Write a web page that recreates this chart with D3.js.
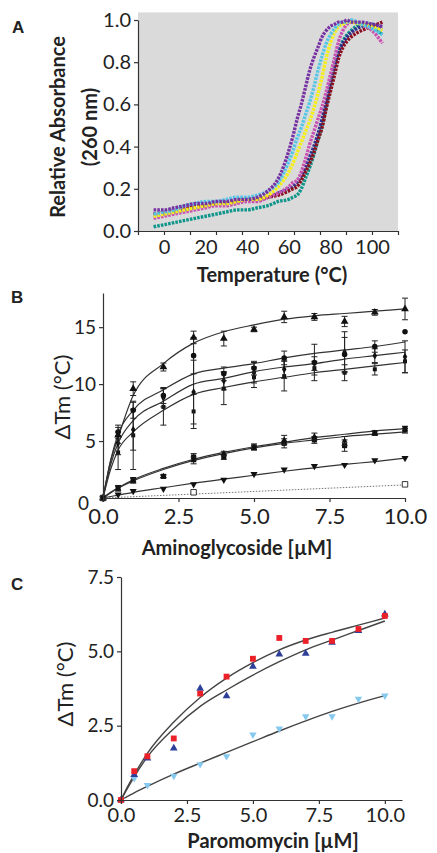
<!DOCTYPE html>
<html>
<head>
<meta charset="utf-8">
<script src="https://cdn.jsdelivr.net/npm/d3@7"></script>
<style>
  body { margin: 0; background: #fff; }
  text { font-family: Lato, "Open Sans", sans-serif; fill: #222; }
</style>
</head>
<body>
<svg id="fig" width="437" height="853"></svg>
<script>
// ---------- panel A : melting curves ----------
const meltTemps = [-5, 0, 5, 10, 15, 20, 25, 30, 35, 40, 45, 50, 55, 60, 62, 64, 66, 68, 70, 72, 74, 76, 78, 80, 82, 84, 86, 88, 90, 95, 100, 105];
const purpleAbs = [0.10, 0.10, 0.11, 0.12, 0.13, 0.13, 0.14, 0.14, 0.15, 0.15, 0.16, 0.19, 0.25, 0.38, 0.45, 0.53, 0.60, 0.68, 0.76, 0.82, 0.87, 0.92, 0.95, 0.97, 0.98, 0.99, 0.99, 1.00, 0.99, 0.99, 0.98, 0.97];
const cyanAbs = [0.08, 0.09, 0.10, 0.12, 0.13, 0.14, 0.14, 0.15, 0.16, 0.16, 0.17, 0.19, 0.23, 0.33, 0.38, 0.44, 0.49, 0.55, 0.61, 0.68, 0.76, 0.83, 0.89, 0.93, 0.96, 0.98, 0.99, 0.99, 1.00, 0.98, 0.96, 0.93];
const yellowAbs = [0.07, 0.08, 0.09, 0.10, 0.11, 0.12, 0.13, 0.13, 0.14, 0.15, 0.15, 0.17, 0.21, 0.28, 0.32, 0.37, 0.42, 0.47, 0.52, 0.58, 0.65, 0.73, 0.82, 0.89, 0.94, 0.97, 0.98, 0.99, 0.99, 0.98, 0.97, 0.95];
const magentaAbs = [0.06, 0.07, 0.08, 0.09, 0.10, 0.11, 0.12, 0.12, 0.13, 0.14, 0.14, 0.16, 0.18, 0.21, 0.23, 0.24, 0.28, 0.34, 0.41, 0.47, 0.53, 0.59, 0.66, 0.74, 0.82, 0.90, 0.95, 0.98, 0.99, 0.98, 0.95, 0.89];
const navyAbs = [0.08, 0.08, 0.09, 0.10, 0.11, 0.12, 0.13, 0.13, 0.14, 0.15, 0.15, 0.16, 0.18, 0.20, 0.21, 0.23, 0.26, 0.30, 0.35, 0.40, 0.46, 0.53, 0.61, 0.70, 0.78, 0.85, 0.89, 0.92, 0.94, 0.97, 0.98, 0.96];
const tealAbs = [0.02, 0.03, 0.04, 0.05, 0.06, 0.07, 0.08, 0.09, 0.10, 0.10, 0.11, 0.12, 0.14, 0.15, 0.16, 0.17, 0.20, 0.25, 0.30, 0.36, 0.43, 0.50, 0.59, 0.69, 0.78, 0.85, 0.90, 0.93, 0.95, 0.98, 0.97, 0.93];
const darkRedAbs = [0.08, 0.09, 0.10, 0.11, 0.12, 0.12, 0.13, 0.14, 0.14, 0.15, 0.15, 0.16, 0.17, 0.19, 0.20, 0.21, 0.24, 0.28, 0.32, 0.37, 0.43, 0.49, 0.58, 0.66, 0.74, 0.82, 0.87, 0.90, 0.92, 0.95, 0.97, 0.99];
const aYTicks = [0, 0.2, 0.4, 0.6, 0.8, 1.0];
const aXLabels = [0, 20, 40, 60, 80, 100];

// ---------- panel B : aminoglycoside titration ----------
const bConc = [0, 0.5, 1, 2, 3, 4, 5, 6, 7, 8, 9, 10];
const bFitConc = [0, 0.25, 0.5, 1, 2, 3, 4, 5, 6, 7, 8, 9, 10];
const bTriUp = [0, 5.5, 9.6, 11.5, 14.1, 14.0, 14.8, 15.9, 15.9, 15.5, 16.3, 16.6];
const bTriUpErr = [0, 0.7, 0.6, 0.35, 0.55, 0.65, 0.2, 0.5, 0.3, 0.45, 0.25, 0.95];
const bCircle = [0, 5.8, 7.7, 9.0, 12.5, 10.9, 11.4, 12.3, 11.9, 12.6, 13.3, 14.6];
const bCircleErr = [0, 0.6, 0.7, 0.7, 1.6, 0.6, 0.6, 0.6, 1.6, 1.5, 0.5, 0];
const bDiamond = [0, 4.8, 6.0, 8.8, 9.3, 10.3, 11.0, 11.3, 11.8, 12.8, 12.5, 12.4];
const bDiamondErr = [0, 1.0, 1.8, 0.8, 2.8, 0.8, 0.9, 0.8, 0.6, 1.8, 0.6, 1.4];
const bSmallSq = [0, 4.0, 5.5, 8.0, 7.6, 9.6, 10.6, 10.7, 11.4, 11.0, 11.3, 12.0];
const bSmallSqErr = [0, 1.5, 3.0, 1.6, 1.5, 1.4, 0.9, 1.3, 0.6, 0.7, 0.5, 1.0];
const bSquare = [0, 0.9, 1.6, 1.9, 3.6, 3.6, 4.5, 4.8, 5.1, 4.6, 5.7, 6.1];
const bSquareErr = [0, 0.2, 0.2, 0.15, 0.3, 0.2, 0.25, 0.4, 0.3, 0.5, 0.2, 0.2];
const bTriSmall = [0, 0.8, 1.5, 1.9, 3.3, 3.9, 4.4, 5.1, 5.4, 5.0, 5.7, 5.9];
const bTriSmallErr = [0, 0.2, 0.2, 0.1, 0.3, 0.2, 0.2, 0.4, 0.3, 0.4, 0.2, 0.2];
const bTriDown = [0, 0.3, 0.6, 0.8, 1.2, 1.6, 2.1, 2.5, 2.8, 2.9, 3.3, 3.5];
const bOpenConc = [0, 3, 10];
const bOpenSq = [0, 0.5, 1.2];
const bFitTriUp = [0, 3.2, 5.3, 9.0, 11.8, 13.6, 14.6, 15.2, 15.7, 16.0, 16.2, 16.4, 16.6];
const bFitCircle = [0, 3.3, 5.6, 7.7, 9.5, 10.9, 11.4, 11.8, 12.3, 12.7, 13.0, 13.3, 13.7];
const bFitDiamond = [0, 2.9, 4.8, 6.8, 8.5, 10.0, 10.5, 11.1, 11.5, 11.8, 12.2, 12.5, 12.8];
const bFitSmallSq = [0, 2.5, 4.2, 5.8, 7.7, 9.1, 9.7, 10.2, 10.6, 11.0, 11.3, 11.6, 11.9];
const bFitSquare = [0, 0.5, 0.9, 1.6, 2.6, 3.4, 4.0, 4.5, 4.9, 5.3, 5.6, 5.9, 6.1];
const bFitTriSmall = [0, 0.45, 0.85, 1.5, 2.5, 3.3, 3.9, 4.4, 4.8, 5.1, 5.4, 5.6, 5.8];
const bFitTriDown = [0, 0.13, 0.25, 0.5, 0.9, 1.3, 1.65, 2.0, 2.35, 2.65, 2.95, 3.2, 3.5];
const bDottedConc = [0, 10];
const bDottedFit = [0, 1.15];
const bYTicks = [0, 5, 10, 15];
const bXTicks = [0, 2.5, 5, 7.5, 10];

// ---------- panel C : paromomycin ----------
const cConc = [0, 0.5, 1, 2, 3, 4, 5, 6, 7, 8, 9, 10];
const cFitConc = [0, 0.25, 0.5, 1, 2, 3, 4, 5, 6, 7, 8, 9, 10];
const cRed = [0, 0.97, 1.47, 2.07, 3.58, 4.15, 4.75, 5.45, 5.35, 5.35, 5.75, 6.19];
const cBlue = [0, 0.85, 1.4, 1.74, 3.75, 3.5, 4.49, 4.9, 4.93, 5.3, 5.69, 6.25];
const cLightBlue = [0, 0.73, 0.5, 0.81, 1.2, 1.47, 2.2, 2.4, 2.81, 2.81, 3.4, 3.51];
const cFitRed = [0, 0.45, 0.85, 1.57, 2.62, 3.45, 4.1, 4.62, 5.05, 5.38, 5.64, 5.88, 6.12];
const cFitBlue = [0, 0.4, 0.78, 1.45, 2.4, 3.15, 3.7, 4.2, 4.65, 5.05, 5.38, 5.7, 6.02];
const cFitLightBlue = [0, 0.12, 0.24, 0.46, 0.87, 1.24, 1.6, 1.96, 2.32, 2.66, 2.98, 3.26, 3.51];
const cYTicks = [0, 2.5, 5, 7.5];
const cXTicks = [0, 2.5, 5, 7.5, 10];

const svg = d3.select("#fig");
const fmt1 = d3.format(".1f");

function styleAxis(g, size) {
  g.select(".domain").attr("stroke", "#333").attr("stroke-width", 1.2);
  g.selectAll(".tick line").attr("stroke", "#333").attr("stroke-width", 1.2);
  g.selectAll(".tick text")
    .attr("fill", "#222")
    .style("font-family", "Lato, 'Open Sans', sans-serif")
    .style("font-size", size + "px");
}

function panelLetter(letter, x, y) {
  svg.append("text").attr("x", x).attr("y", y)
    .style("font-family", "'Liberation Sans', Arial, sans-serif")
    .style("font-weight", "bold").style("font-size", "17px")
    .text(letter);
}

// ===== A =====
const ax = d3.scaleLinear().domain([-12.5, 112.5]).range([138, 398]);
const ay = d3.scaleLinear().domain([0, 1]).range([231, 20]);

svg.append("rect")
  .attr("x", ax(-12.5)).attr("y", ay(1.036))
  .attr("width", ax(112.5) - ax(-12.5)).attr("height", ay(0) - ay(1.036))
  .attr("fill", "#dadada");

const meltCurves = [
  { color: "#0f968c", values: tealAbs },
  { color: "#2e2f8e", values: navyAbs },
  { color: "#8b1020", values: darkRedAbs },
  { color: "#c852b2", values: magentaAbs },
  { color: "#f4ef16", values: yellowAbs },
  { color: "#55c6e6", values: cyanAbs },
  { color: "#7631a3", values: purpleAbs }
];

const meltLine = d3.line()
  .x((d, i) => ax(meltTemps[i]))
  .y(d => ay(d))
  .curve(d3.curveMonotoneX);

meltCurves.forEach(c => {
  svg.append("path")
    .attr("d", meltLine(c.values))
    .attr("fill", "none")
    .attr("stroke", c.color)
    .attr("stroke-width", 3.4)
    .attr("stroke-dasharray", "2.6,1.1");
});

const aYAxis = svg.append("g")
  .attr("transform", `translate(${ax(-12.5)},0)`)
  .call(d3.axisLeft(ay).tickValues(aYTicks).tickFormat(fmt1).tickSize(4).tickSizeOuter(0).tickPadding(3));
styleAxis(aYAxis, 20);

const aXAxis = svg.append("g")
  .attr("transform", `translate(0,${ay(0)})`)
  .call(d3.axisBottom(ax).tickValues(d3.range(-12.5, 113, 12.5)).tickFormat("").tickSize(4).tickSizeOuter(0));
styleAxis(aXAxis, 20);

const aXLabelAxis = svg.append("g")
  .attr("transform", `translate(0,${ay(0)})`)
  .call(d3.axisBottom(ax).tickValues(aXLabels).tickSize(0).tickPadding(9));
aXLabelAxis.select(".domain").remove();
styleAxis(aXLabelAxis, 20);

svg.append("text")
  .attr("x", 272).attr("y", 282)
  .attr("text-anchor", "middle")
  .style("font-weight", "bold").style("font-size", "20px")
  .text("Temperature (°C)");

const aYLabel = svg.append("text")
  .attr("transform", "translate(58,127) rotate(-90)")
  .attr("text-anchor", "middle")
  .style("font-weight", "bold").style("font-size", "20px");
aYLabel.append("tspan").attr("x", 0).attr("dy", "0.35em").text("Relative Absorbance");
aYLabel.append("tspan").attr("x", 0).attr("dy", "1.6em").text("(260 nm)");

panelLetter("A", 12, 33);

// ===== B =====
const bx = d3.scaleLinear().domain([0, 10]).range([103, 405]);
const by = d3.scaleLinear().domain([0, 18]).range([498, 293]);

const bFitLine = d3.line()
  .x((d, i) => bx(bFitConc[i]))
  .y(d => by(d))
  .curve(d3.curveMonotoneX);

[bFitTriUp, bFitCircle, bFitDiamond, bFitSmallSq, bFitSquare, bFitTriSmall, bFitTriDown].forEach(f => {
  svg.append("path")
    .attr("d", bFitLine(f))
    .attr("fill", "none")
    .attr("stroke", "#333")
    .attr("stroke-width", 1.2);
});

svg.append("path")
  .attr("d", d3.line().x((d, i) => bx(bDottedConc[i])).y(d => by(d))(bDottedFit))
  .attr("fill", "none")
  .attr("stroke", "#777")
  .attr("stroke-width", 1)
  .attr("stroke-dasharray", "1.5,1.5");

const bSeries = [
  { values: bSquare, err: bSquareErr, symbol: d3.symbolSquare, size: 26, rot: 0 },
  { values: bTriSmall, err: bTriSmallErr, symbol: d3.symbolTriangle, size: 16, rot: 0 },
  { values: bTriDown, err: null, symbol: d3.symbolTriangle, size: 22, rot: 180 },
  { values: bSmallSq, err: bSmallSqErr, symbol: d3.symbolSquare, size: 16, rot: 0 },
  { values: bDiamond, err: bDiamondErr, symbol: d3.symbolDiamond, size: 18, rot: 0 },
  { values: bCircle, err: bCircleErr, symbol: d3.symbolCircle, size: 24, rot: 0 },
  { values: bTriUp, err: bTriUpErr, symbol: d3.symbolTriangle, size: 26, rot: 0 }
];

bSeries.forEach(s => {
  if (s.err) {
    s.values.forEach((v, i) => {
      const e = s.err[i];
      if (!e) return;
      const x = bx(bConc[i]);
      const g = svg.append("g").attr("stroke", "#222").attr("stroke-width", 1);
      g.append("line").attr("x1", x).attr("x2", x).attr("y1", by(v - e)).attr("y2", by(v + e));
      g.append("line").attr("x1", x - 3).attr("x2", x + 3).attr("y1", by(v - e)).attr("y2", by(v - e));
      g.append("line").attr("x1", x - 3).attr("x2", x + 3).attr("y1", by(v + e)).attr("y2", by(v + e));
    });
  }
  svg.append("g").selectAll("path")
    .data(s.values)
    .join("path")
    .attr("transform", (d, i) => `translate(${bx(bConc[i])},${by(d)}) rotate(${s.rot})`)
    .attr("d", d3.symbol().type(s.symbol).size(s.size))
    .attr("fill", "#111");
});

svg.append("g").selectAll("path")
  .data(bOpenSq)
  .join("path")
  .attr("transform", (d, i) => `translate(${bx(bOpenConc[i])},${by(d)})`)
  .attr("d", d3.symbol().type(d3.symbolSquare).size(30))
  .attr("fill", (d, i) => i === 0 ? "#111" : "#fff")
  .attr("stroke", "#333")
  .attr("stroke-width", 1);

const bYAxis = svg.append("g")
  .attr("transform", `translate(${bx(0)},0)`)
  .call(d3.axisLeft(by).tickValues(bYTicks).tickSize(4).tickSizeOuter(0).tickPadding(3));
styleAxis(bYAxis, 19);
bYAxis.selectAll(".tick text").filter(d => d === 0).attr("x", -14).attr("dy", "0.6em");
bYAxis.selectAll(".tick line").filter(d => d === 0).remove();

const bXAxis = svg.append("g")
  .attr("transform", `translate(0,${by(0)})`)
  .call(d3.axisBottom(bx).tickValues(bXTicks).tickFormat(fmt1).tickSize(4).tickSizeOuter(0).tickPadding(6));
styleAxis(bXAxis, 22);

svg.append("text")
  .attr("x", 237).attr("y", 555)
  .attr("text-anchor", "middle")
  .style("font-weight", "bold").style("font-size", "20px")
  .text("Aminoglycoside [µM]");

svg.append("text")
  .attr("transform", "translate(70,397) rotate(-90)")
  .attr("text-anchor", "middle")
  .style("font-size", "22px")
  .text("ΔTm (°C)");

panelLetter("B", 11, 303);

// ===== C =====
const cx = d3.scaleLinear().domain([0, 10.65]).range([121, 402]);
const cy = d3.scaleLinear().domain([0, 7.5]).range([800, 577]);

const cFitLine = d3.line()
  .x((d, i) => cx(cFitConc[i]))
  .y(d => cy(d))
  .curve(d3.curveMonotoneX);

[cFitRed, cFitBlue, cFitLightBlue].forEach(f => {
  svg.append("path")
    .attr("d", cFitLine(f))
    .attr("fill", "none")
    .attr("stroke", "#444")
    .attr("stroke-width", 1.4);
});

const cSeries = [
  { values: cLightBlue, color: "#86c9ee", symbol: d3.symbolTriangle, size: 24, rot: 180 },
  { values: cBlue, color: "#2e3f9a", symbol: d3.symbolTriangle, size: 26, rot: 0 },
  { values: cRed, color: "#ec2028", symbol: d3.symbolSquare, size: 34, rot: 0 }
];

cSeries.forEach(s => {
  svg.append("g").selectAll("path")
    .data(s.values)
    .join("path")
    .attr("transform", (d, i) => `translate(${cx(cConc[i])},${cy(d)}) rotate(${s.rot})`)
    .attr("d", d3.symbol().type(s.symbol).size(s.size))
    .attr("fill", s.color);
});

const cYAxis = svg.append("g")
  .attr("transform", `translate(${cx(0)},0)`)
  .call(d3.axisLeft(cy).tickValues(cYTicks).tickFormat(fmt1).tickSize(4).tickSizeOuter(0).tickPadding(3));
styleAxis(cYAxis, 19);

const cXAxis = svg.append("g")
  .attr("transform", `translate(0,${cy(0)})`)
  .call(d3.axisBottom(cx).tickValues(cXTicks).tickFormat(fmt1).tickSize(4).tickSizeOuter(0).tickPadding(4));
styleAxis(cXAxis, 20);

svg.append("text")
  .attr("x", 273).attr("y", 848)
  .attr("text-anchor", "middle")
  .style("font-weight", "bold").style("font-size", "20px")
  .text("Paromomycin [µM]");

svg.append("text")
  .attr("transform", "translate(73,684) rotate(-90)")
  .attr("text-anchor", "middle")
  .style("font-size", "22px")
  .text("ΔTm (°C)");

panelLetter("C", 11, 590);
</script>
</body>
</html>
